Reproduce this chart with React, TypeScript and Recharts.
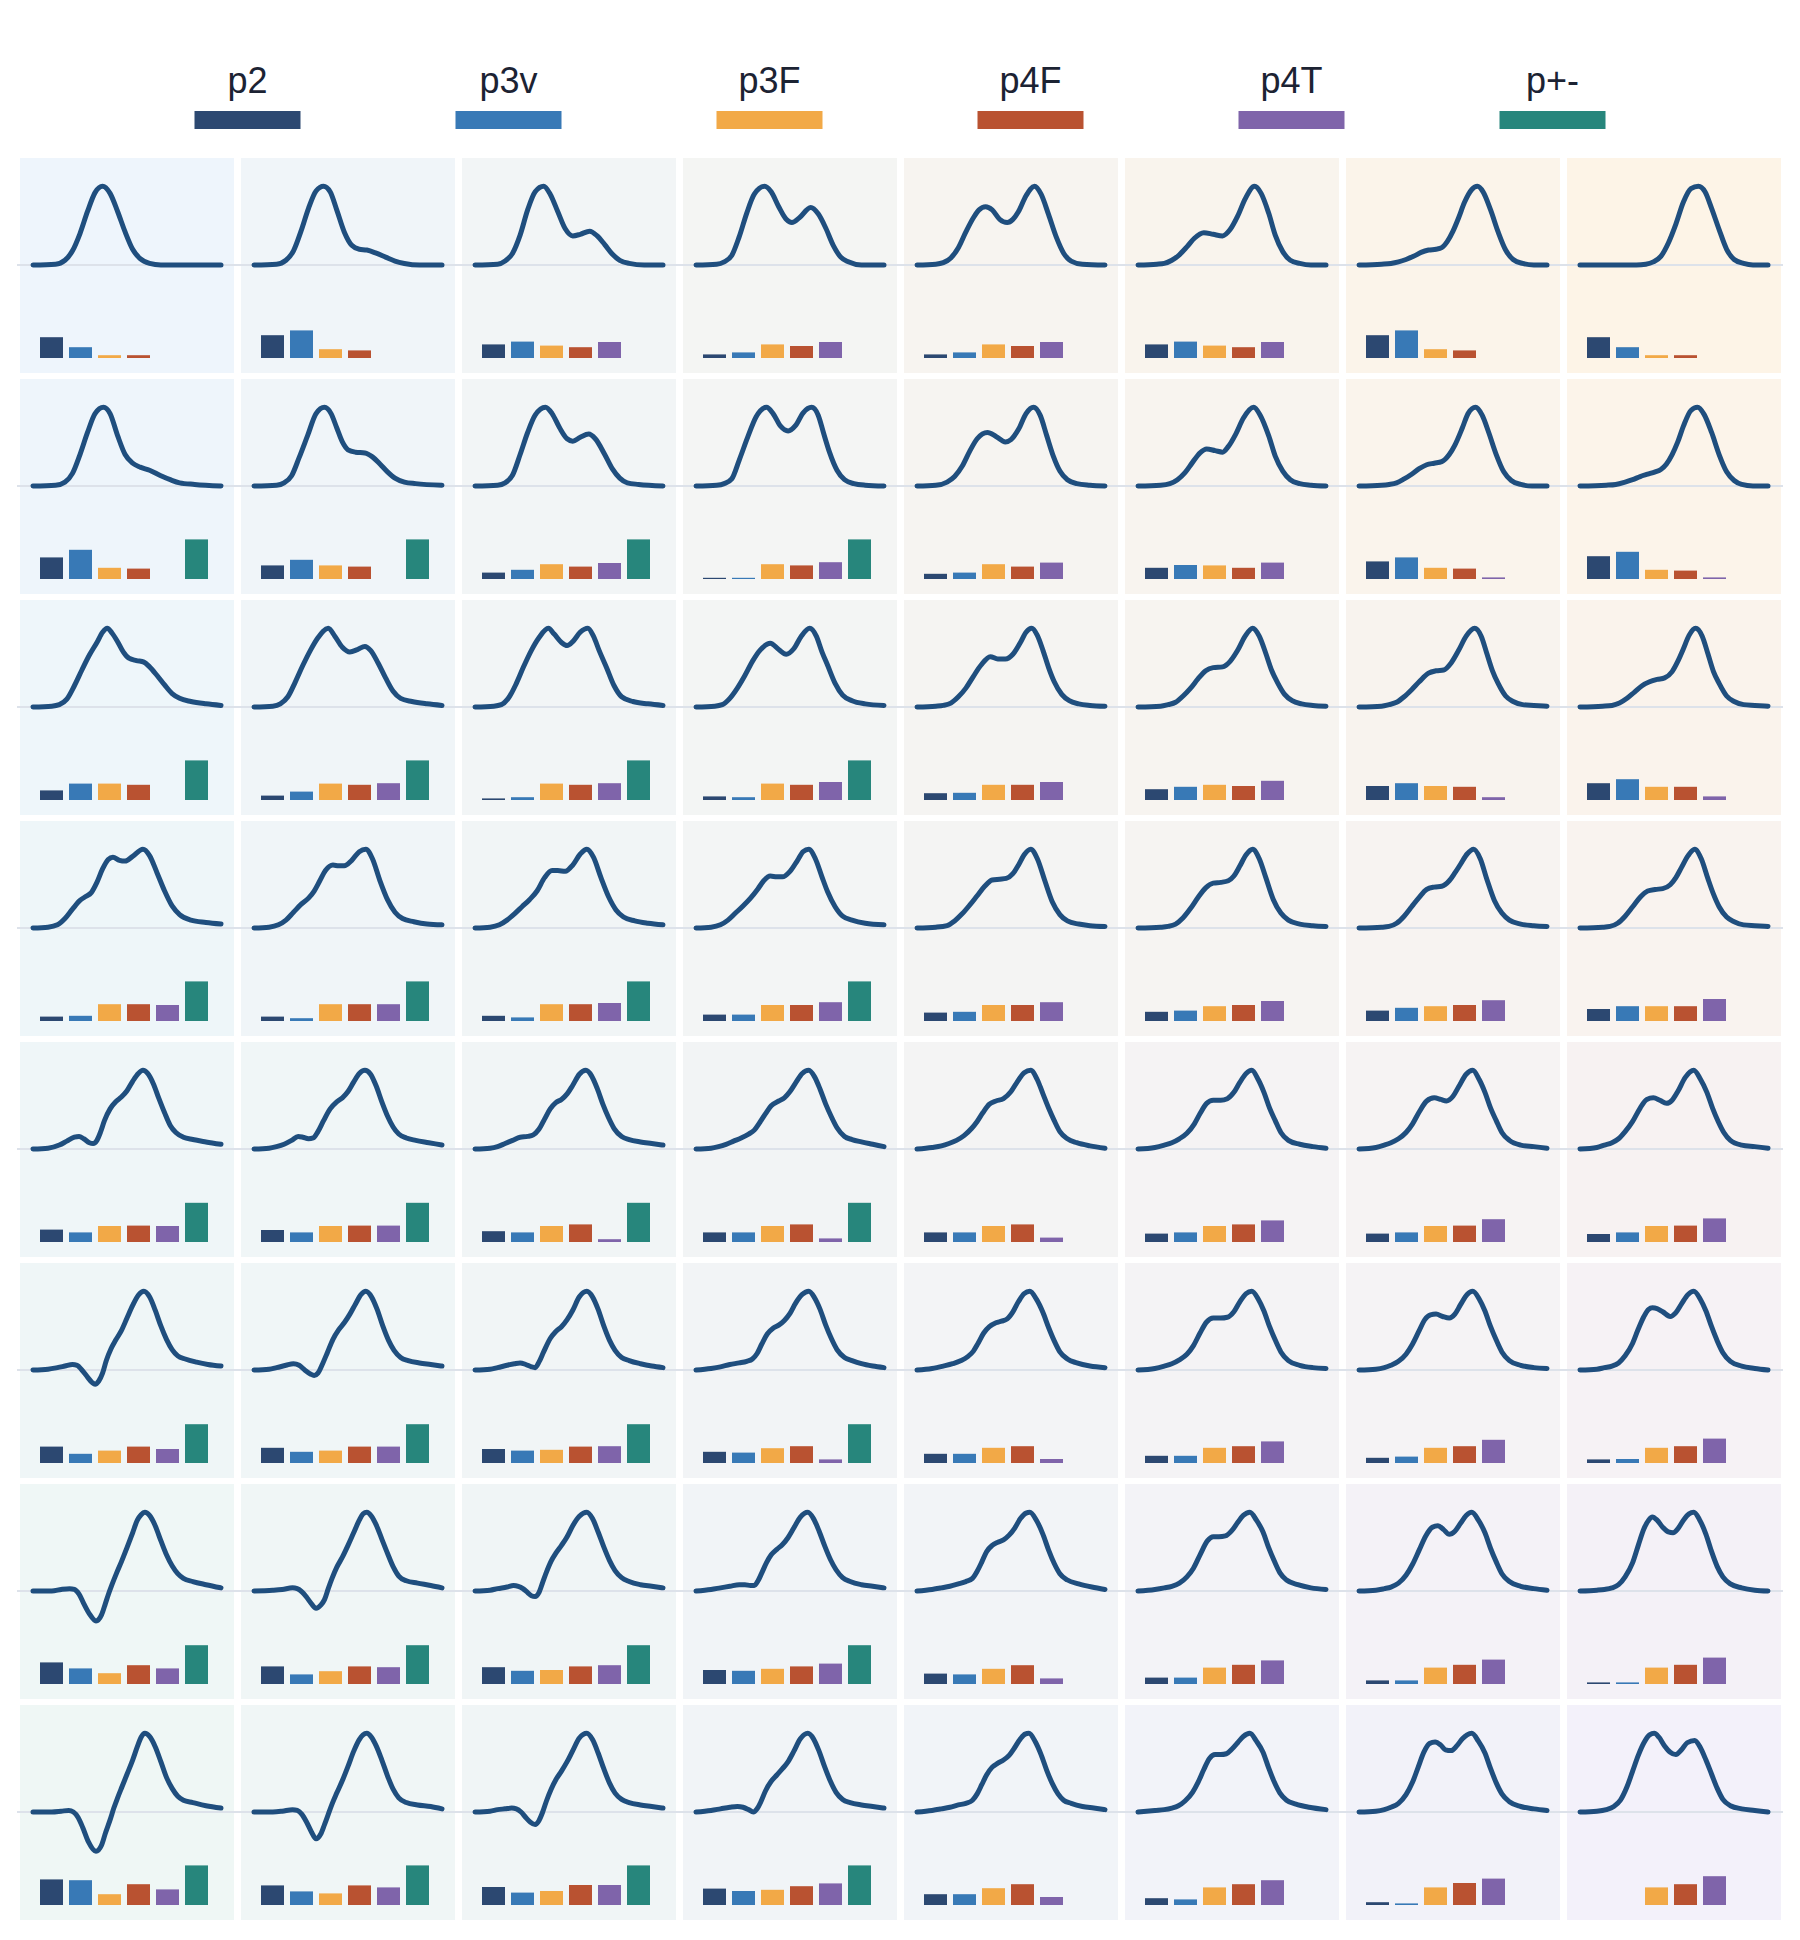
import { Bar, BarChart, Cell, Line, LineChart, XAxis, YAxis } from 'recharts';

const SERIES = ['p2', 'p3v', 'p3F', 'p4F', 'p4T', 'p+-'];
const SERIES_COLORS = ['#2c4871', '#3879b6', '#f2a947', '#b95231', '#7f64aa', '#27867c'];

// curve points per cell: [t, normalised intensity], t runs 0..100 across the panel
const ROW_1 = [
  [[0,0],[12,0.01],[17,0.06],[21,0.18],[25,0.4],[29,0.68],[33,0.92],[37,1],[41,0.91],[45,0.68],[49,0.42],[53,0.2],[57,0.08],[62,0.02],[68,0],[100,0]],
  [[0,0],[12,0.01],[17,0.06],[21,0.18],[25,0.43],[29,0.72],[33,0.94],[37,1],[40.5,0.93],[44,0.7],[48,0.42],[52,0.25],[56,0.2],[60,0.19],[65,0.15],[70,0.1],[75,0.05],[80,0.02],[88,0],[100,0]],
  [[0,0],[12,0.01],[16,0.05],[20,0.15],[24,0.38],[28,0.7],[32,0.93],[36.5,1],[40,0.9],[44,0.68],[48,0.46],[52,0.37],[56,0.39],[61,0.43],[65,0.37],[69,0.26],[73,0.14],[77,0.06],[82,0.02],[90,0],[100,0]],
  [[0,0],[11,0.01],[15,0.04],[19,0.12],[23,0.36],[27,0.66],[31,0.9],[36.5,1],[40,0.93],[44,0.74],[48,0.58],[51,0.54],[55,0.6],[61,0.73],[65,0.65],[69,0.47],[73,0.25],[77,0.1],[81,0.04],[88,0],[100,0]],
  [[0,0],[10,0.01],[14,0.03],[18,0.09],[22,0.22],[26,0.42],[30,0.6],[33,0.7],[36.5,0.74],[40,0.7],[44,0.58],[48,0.54],[51,0.58],[54,0.68],[58,0.88],[62.5,1],[66,0.9],[70,0.64],[74,0.36],[78,0.15],[82,0.05],[88,0.01],[100,0]],
  [[0,0],[10,0.01],[14,0.02],[18,0.06],[22,0.13],[26,0.23],[30,0.34],[35,0.41],[40,0.39],[45,0.37],[49,0.45],[53,0.62],[57,0.84],[62,1],[65.5,0.91],[69.5,0.66],[73,0.38],[77,0.17],[81,0.06],[86,0.02],[92,0],[100,0]],
  [[0,0],[12,0.01],[17,0.02],[21,0.04],[25,0.07],[29,0.11],[33,0.16],[37,0.19],[41,0.2],[44,0.22],[47,0.3],[50,0.43],[53,0.6],[56,0.79],[60,0.96],[63,1],[66,0.93],[70,0.7],[74,0.42],[78,0.19],[82,0.07],[87,0.02],[93,0],[100,0]],
  [[0,0],[30,0],[35,0.01],[39,0.04],[43,0.11],[47,0.28],[51,0.52],[55,0.8],[59,0.97],[63,1],[66.5,0.93],[70,0.72],[74,0.45],[78,0.2],[82,0.07],[87,0.02],[92,0],[100,0]],
];

const ROW_2 = [
  [[0,0],[12,0.01],[17,0.05],[21,0.16],[25,0.4],[29,0.68],[33,0.92],[37.5,1],[41,0.92],[45,0.64],[49,0.4],[53,0.29],[57,0.24],[62,0.2],[68,0.13],[73,0.08],[78,0.04],[86,0.02],[100,0]],
  [[0,0],[12,0.01],[16,0.04],[20,0.13],[24,0.36],[28.5,0.64],[33,0.92],[37.5,1],[41,0.92],[44,0.74],[47,0.56],[50,0.46],[54,0.43],[59,0.42],[63,0.37],[67,0.28],[71,0.18],[75,0.1],[80,0.05],[86,0.03],[100,0.01]],
  [[0,0],[12,0.01],[16,0.04],[20,0.14],[24,0.4],[28,0.68],[32,0.9],[37.5,1],[41,0.92],[45,0.74],[49,0.6],[52,0.57],[56,0.62],[60.5,0.66],[64,0.6],[69,0.4],[73,0.22],[77,0.1],[81,0.04],[87,0.02],[100,0]],
  [[0,0],[11,0.01],[15,0.03],[19,0.09],[23,0.33],[27.5,0.62],[32,0.88],[37.5,1],[41,0.92],[45,0.76],[49,0.7],[53,0.77],[57,0.93],[61.5,1],[65,0.9],[68,0.66],[71,0.43],[75,0.2],[79,0.08],[84,0.03],[90,0.01],[100,0]],
  [[0,0],[10,0.01],[16,0.05],[20,0.12],[24,0.25],[28,0.44],[32,0.6],[37.5,0.68],[42,0.63],[47,0.56],[50,0.59],[54,0.72],[58,0.92],[62,1],[65.5,0.9],[69,0.64],[72.5,0.38],[76,0.19],[80,0.08],[85,0.03],[92,0.01],[100,0]],
  [[0,0],[12,0.01],[17,0.03],[21,0.08],[25,0.17],[29,0.3],[33,0.42],[36.5,0.47],[41,0.45],[45,0.43],[48,0.5],[52,0.66],[56,0.86],[61.5,1],[65,0.9],[69.5,0.64],[73,0.38],[77,0.19],[81,0.08],[86,0.03],[92,0.01],[100,0]],
  [[0,0],[12,0.01],[16,0.02],[20,0.04],[24,0.09],[28,0.15],[32,0.22],[36,0.27],[40,0.29],[44,0.31],[48,0.4],[51,0.52],[55,0.74],[58,0.92],[62,1],[65.5,0.9],[69,0.68],[73,0.4],[77,0.18],[81,0.07],[86,0.02],[92,0],[100,0]],
  [[0,0],[14,0.01],[19,0.02],[24,0.05],[28,0.08],[32,0.12],[36,0.15],[40,0.18],[43,0.21],[46,0.28],[49,0.4],[52,0.56],[55,0.76],[59,0.96],[62.5,1],[66,0.91],[70,0.68],[74,0.4],[78,0.18],[82,0.07],[86,0.02],[92,0],[100,0]],
];

const ROW_3 = [
  [[0,0],[10,0.01],[14,0.03],[18,0.1],[22,0.27],[26,0.47],[30,0.66],[34,0.82],[37,0.95],[39.5,1],[42,0.94],[45,0.83],[48,0.7],[51,0.62],[55,0.59],[59,0.57],[62,0.51],[66,0.4],[70,0.28],[74,0.17],[78,0.11],[84,0.07],[92,0.04],[100,0.02]],
  [[0,0],[10,0.01],[14,0.04],[18,0.13],[22,0.32],[26,0.53],[30,0.72],[34,0.88],[39.5,1],[43,0.9],[47,0.76],[51,0.7],[55,0.73],[59,0.77],[62,0.72],[66,0.56],[70,0.37],[74,0.2],[78,0.11],[84,0.07],[92,0.04],[100,0.02]],
  [[0,0],[10,0.01],[14,0.03],[18,0.12],[22,0.3],[26,0.52],[30,0.72],[34,0.88],[39,1],[42,0.93],[46,0.82],[49,0.78],[52,0.83],[56,0.95],[60,1],[63,0.9],[66,0.72],[70,0.5],[74,0.27],[78,0.13],[84,0.07],[92,0.04],[100,0.02]],
  [[0,0],[10,0.01],[14,0.03],[18,0.11],[22,0.24],[26,0.4],[30,0.58],[34,0.72],[39.5,0.81],[44,0.73],[48,0.67],[52,0.74],[56,0.9],[60.5,1],[64,0.9],[67,0.7],[70,0.53],[74,0.3],[78,0.15],[83,0.08],[90,0.04],[100,0.02]],
  [[0,0],[10,0.01],[14,0.02],[18,0.05],[22,0.13],[26,0.24],[30,0.39],[34,0.53],[39,0.64],[43,0.61],[47,0.61],[51,0.67],[55,0.82],[58,0.95],[61,1],[64,0.91],[67,0.72],[70,0.5],[73,0.32],[77,0.16],[81,0.08],[86,0.04],[92,0.02],[100,0.01]],
  [[0,0],[12,0.01],[16,0.03],[20,0.06],[24,0.14],[28,0.24],[32,0.36],[36,0.46],[40,0.5],[45,0.51],[49,0.58],[53,0.72],[57,0.9],[61,1],[64.5,0.9],[68,0.68],[71,0.47],[74,0.32],[78,0.16],[82,0.08],[87,0.04],[93,0.02],[100,0.01]],
  [[0,0],[12,0.01],[16,0.03],[20,0.06],[24,0.13],[28,0.22],[32,0.32],[37,0.43],[41,0.46],[45,0.47],[49,0.56],[53,0.72],[57,0.9],[61.5,1],[65,0.9],[68,0.68],[71,0.46],[74,0.3],[78,0.14],[82,0.07],[87,0.03],[93,0.02],[100,0.01]],
  [[0,0],[12,0.01],[17,0.02],[21,0.05],[25,0.11],[29,0.19],[33,0.27],[37,0.32],[41,0.35],[45,0.37],[49,0.45],[52,0.58],[55,0.74],[58,0.91],[61.5,1],[65,0.9],[68,0.68],[71,0.45],[74,0.3],[78,0.14],[82,0.07],[87,0.03],[93,0.02],[100,0.01]],
];

const ROW_4 = [
  [[0,0],[8,0.01],[13,0.04],[17,0.12],[21,0.24],[25,0.35],[28,0.4],[31,0.45],[34,0.58],[37,0.75],[40,0.87],[42.5,0.9],[46,0.86],[49,0.85],[53,0.91],[58.5,1],[62,0.92],[66,0.7],[70,0.47],[74,0.28],[78,0.17],[84,0.1],[92,0.07],[100,0.05]],
  [[0,0],[8,0.01],[13,0.04],[17,0.1],[21,0.2],[25,0.3],[29,0.38],[32,0.47],[35,0.6],[38,0.73],[42,0.8],[45,0.79],[48,0.79],[52,0.86],[56,0.97],[59.5,1],[63,0.88],[67,0.6],[71,0.36],[75,0.2],[79,0.12],[85,0.08],[92,0.05],[100,0.04]],
  [[0,0],[8,0.01],[13,0.04],[17,0.1],[21,0.18],[25,0.27],[29,0.36],[33,0.47],[37,0.64],[41,0.73],[44,0.73],[48,0.72],[52,0.8],[56,0.94],[59.5,1],[63,0.9],[67,0.64],[71,0.4],[75,0.23],[79,0.14],[85,0.09],[92,0.06],[100,0.04]],
  [[0,0],[8,0.01],[13,0.04],[17,0.1],[21,0.19],[25,0.28],[29,0.38],[33,0.5],[36,0.6],[39.5,0.66],[43,0.65],[46,0.65],[50,0.72],[54,0.86],[57,0.97],[60,1],[63.5,0.88],[67,0.65],[70,0.46],[74,0.27],[78,0.15],[83,0.1],[90,0.06],[100,0.04]],
  [[0,0],[10,0.01],[16,0.03],[20,0.09],[24,0.18],[28,0.29],[32,0.41],[36,0.53],[40,0.61],[44,0.62],[47.5,0.63],[51,0.69],[54,0.8],[57,0.93],[60.5,1],[64,0.88],[68,0.6],[72,0.33],[76,0.17],[80,0.09],[86,0.05],[92,0.03],[100,0.02]],
  [[0,0],[12,0.01],[16,0.02],[20,0.05],[24,0.13],[28,0.25],[32,0.39],[36,0.51],[40,0.57],[44,0.58],[48,0.6],[51,0.66],[54,0.78],[57.5,0.93],[61,1],[64.5,0.88],[68,0.64],[72,0.36],[76,0.19],[80,0.1],[86,0.05],[93,0.03],[100,0.02]],
  [[0,0],[12,0.01],[16,0.02],[20,0.06],[24,0.15],[28,0.27],[32,0.39],[36,0.49],[40,0.52],[44,0.53],[48,0.6],[51,0.7],[54,0.81],[57.5,0.94],[61,1],[64.5,0.88],[68,0.62],[72,0.35],[76,0.19],[80,0.1],[86,0.05],[93,0.03],[100,0.02]],
  [[0,0],[12,0.01],[16,0.02],[20,0.06],[24,0.15],[28,0.27],[32,0.39],[36,0.47],[40,0.49],[44,0.5],[48,0.55],[51,0.64],[54,0.77],[57.5,0.92],[61,1],[64.5,0.88],[68,0.63],[71,0.43],[74,0.27],[78,0.14],[82,0.08],[87,0.04],[93,0.03],[100,0.02]],
];

const ROW_5 = [
  [[0,0],[8,0.01],[14,0.05],[18,0.1],[22,0.15],[24.5,0.16],[27,0.13],[30,0.08],[32,0.07],[34,0.11],[36,0.22],[38,0.36],[41,0.51],[44,0.6],[47,0.66],[50,0.74],[53,0.86],[56,0.96],[58.5,1],[61,0.96],[64,0.83],[67,0.64],[70,0.46],[73,0.3],[76,0.21],[80,0.15],[85,0.12],[92,0.09],[100,0.06]],
  [[0,0],[8,0.01],[12,0.03],[16,0.06],[20,0.11],[23.5,0.16],[26,0.15],[29,0.13],[31.5,0.14],[34,0.22],[37,0.36],[40.5,0.51],[44,0.6],[47,0.65],[50,0.73],[53,0.85],[56,0.96],[59,1],[62,0.95],[65,0.8],[68,0.6],[71,0.42],[74,0.28],[77,0.19],[81,0.14],[86,0.11],[93,0.08],[100,0.05]],
  [[0,0],[8,0.01],[12,0.03],[16,0.07],[20,0.11],[24,0.15],[28,0.16],[31,0.18],[34,0.25],[37,0.38],[40,0.51],[43,0.59],[46,0.63],[49,0.7],[52,0.81],[55.5,0.95],[59,1],[62,0.93],[65,0.77],[68,0.57],[71,0.4],[74,0.26],[78,0.16],[82,0.12],[88,0.09],[94,0.07],[100,0.05]],
  [[0,0],[8,0.01],[12,0.03],[16,0.06],[20,0.1],[24,0.14],[28,0.19],[31,0.24],[34,0.34],[37,0.45],[40,0.55],[44,0.61],[47,0.65],[50,0.73],[53,0.84],[56.5,0.96],[60,1],[63,0.92],[66,0.76],[69,0.57],[72,0.41],[75,0.27],[79,0.16],[83,0.12],[88,0.09],[94,0.06],[100,0.03]],
  [[0,0],[8,0.02],[13,0.04],[17,0.07],[21,0.11],[25,0.17],[29,0.26],[32,0.35],[35,0.46],[38.5,0.57],[42,0.61],[46,0.64],[50,0.73],[53.5,0.86],[57,0.97],[60.5,1],[64,0.88],[67,0.7],[70,0.52],[73,0.36],[76,0.22],[80,0.13],[85,0.08],[92,0.04],[100,0.01]],
  [[0,0],[9,0.02],[14,0.05],[18,0.08],[22,0.13],[26,0.2],[30,0.32],[33,0.45],[36.5,0.58],[40,0.62],[44,0.62],[47.5,0.64],[51,0.72],[54,0.84],[57.5,0.96],[60.5,1],[64,0.88],[67,0.72],[70,0.52],[73,0.36],[76,0.21],[80,0.11],[86,0.06],[93,0.03],[100,0.01]],
  [[0,0],[9,0.02],[13.5,0.05],[17,0.08],[21,0.13],[25,0.21],[28.5,0.32],[32,0.47],[36,0.61],[40,0.65],[43.5,0.63],[46.5,0.61],[50,0.67],[53,0.79],[57,0.95],[60.5,1],[64,0.88],[67,0.72],[70,0.52],[73,0.36],[76,0.21],[80,0.11],[86,0.05],[93,0.03],[100,0.01]],
  [[0,0],[9,0.02],[13,0.05],[17,0.08],[20.5,0.13],[24,0.22],[28,0.35],[32,0.52],[35.5,0.63],[39,0.65],[42.5,0.62],[46,0.58],[49,0.62],[52,0.73],[56,0.91],[60.5,1],[64,0.89],[67.5,0.72],[70.5,0.52],[73.5,0.35],[76.5,0.21],[80,0.11],[86,0.05],[93,0.03],[100,0.01]],
];

const ROW_6 = [
  [[0,0],[8,0.01],[13,0.03],[17,0.05],[21,0.07],[23.5,0.06],[26,0],[29,-0.09],[31.5,-0.16],[33,-0.18],[35,-0.14],[37,-0.04],[39,0.12],[41.5,0.27],[44,0.38],[47,0.5],[50,0.66],[53,0.82],[56,0.95],[59,1],[62,0.93],[65,0.76],[68,0.56],[71,0.39],[74,0.26],[77,0.18],[81,0.14],[87,0.1],[93,0.07],[100,0.05]],
  [[0,0],[8,0.01],[12,0.03],[17,0.06],[21,0.08],[24,0.06],[27,0],[30,-0.05],[32,-0.07],[34,-0.04],[36.5,0.08],[39,0.22],[42,0.39],[45,0.51],[48,0.6],[51,0.71],[54,0.84],[57,0.96],[59.5,1],[62.5,0.93],[65.5,0.77],[68.5,0.56],[71.5,0.38],[74.5,0.25],[78,0.16],[82,0.12],[88,0.09],[94,0.07],[100,0.05]],
  [[0,0],[8,0.01],[12,0.03],[17,0.06],[21,0.08],[24,0.09],[27,0.07],[30,0.04],[32,0.03],[34,0.1],[36.5,0.23],[40,0.4],[43,0.49],[46,0.55],[49,0.64],[52,0.76],[55.5,0.93],[59.5,1],[62.5,0.93],[65.5,0.77],[68.5,0.56],[71.5,0.38],[74.5,0.25],[78,0.16],[82,0.12],[88,0.08],[94,0.05],[100,0.03]],
  [[0,0],[8,0.02],[13,0.04],[18,0.07],[23,0.09],[27,0.11],[30,0.14],[32.5,0.21],[35,0.33],[38,0.46],[41,0.53],[44,0.57],[47,0.63],[50,0.72],[53,0.85],[56.5,0.96],[60,1],[63,0.92],[66,0.77],[69,0.57],[72,0.4],[75,0.26],[79,0.16],[83,0.12],[88,0.08],[94,0.05],[100,0.03]],
  [[0,0],[8,0.02],[14,0.05],[19,0.08],[23.5,0.12],[27,0.17],[30,0.24],[32.5,0.34],[35.5,0.47],[38.5,0.55],[42,0.6],[45,0.62],[48,0.65],[51,0.74],[54,0.87],[57,0.97],[60,1],[63.5,0.9],[67,0.73],[70,0.54],[73,0.37],[76,0.23],[80,0.14],[85,0.09],[92,0.05],[100,0.03]],
  [[0,0],[9,0.02],[14,0.05],[18,0.08],[22,0.13],[26,0.2],[29.5,0.31],[33,0.47],[36.5,0.61],[40,0.66],[44,0.66],[47.5,0.67],[51,0.74],[54,0.86],[57.5,0.97],[60.5,1],[64,0.9],[67,0.75],[70,0.55],[73,0.38],[76,0.23],[80,0.12],[86,0.06],[93,0.03],[100,0.02]],
  [[0,0],[9,0.01],[13.5,0.03],[17,0.06],[21,0.11],[25,0.2],[28.5,0.33],[32,0.5],[35,0.64],[38,0.7],[41,0.71],[44.5,0.68],[48,0.66],[51,0.71],[54,0.83],[57.5,0.96],[60.5,1],[64,0.9],[67,0.75],[70,0.55],[73,0.38],[76,0.23],[80,0.12],[86,0.06],[93,0.03],[100,0.02]],
  [[0,0],[9,0.01],[13,0.03],[17,0.05],[20.5,0.09],[24,0.18],[28,0.34],[31,0.52],[34,0.68],[36.5,0.77],[38.5,0.79],[41,0.78],[44,0.74],[48,0.68],[51,0.73],[54,0.84],[57.5,0.96],[60.5,1],[64,0.9],[67,0.75],[70,0.55],[73,0.37],[76,0.22],[80,0.11],[86,0.05],[93,0.02],[100,0]],
];

const ROW_7 = [
  [[0,0],[10,0],[15,0.02],[19.5,0.03],[22,0.02],[24.5,-0.04],[27,-0.16],[30,-0.29],[33.5,-0.38],[36.5,-0.3],[38.5,-0.16],[40,-0.05],[42,0.08],[44.5,0.23],[47,0.37],[50,0.55],[53,0.74],[55.5,0.9],[57.5,0.97],[59.5,1],[62,0.96],[65,0.83],[68,0.64],[71,0.46],[74,0.32],[77,0.22],[80,0.16],[85,0.12],[92,0.08],[100,0.04]],
  [[0,0],[10,0.01],[15,0.02],[20.5,0.04],[23,0.03],[25.5,-0.01],[28,-0.08],[30.5,-0.16],[33,-0.22],[35.5,-0.18],[37.5,-0.11],[39.5,0.03],[41.5,0.16],[44,0.3],[47,0.43],[50,0.58],[53,0.74],[56,0.9],[58,0.98],[60,1],[62.5,0.95],[65,0.84],[68,0.66],[71,0.48],[74,0.31],[77,0.19],[81,0.13],[87,0.1],[94,0.07],[100,0.04]],
  [[0,0],[8,0.01],[12,0.03],[17,0.05],[20.5,0.07],[23,0.06],[25.5,0.03],[28,-0.02],[30,-0.06],[32,-0.07],[34,-0.02],[36,0.11],[38,0.24],[40.5,0.38],[43,0.48],[46,0.58],[49,0.69],[52,0.83],[55.5,0.95],[59.5,1],[62.5,0.92],[65.5,0.75],[68.5,0.56],[71.5,0.39],[74.5,0.26],[78,0.17],[82,0.12],[88,0.08],[94,0.06],[100,0.04]],
  [[0,0],[8,0.02],[13,0.04],[18,0.06],[23,0.08],[26,0.08],[29,0.07],[31,0.07],[33,0.13],[35,0.23],[37.5,0.36],[40,0.46],[43,0.53],[46,0.59],[49,0.68],[52,0.8],[55.5,0.94],[59.5,1],[62.5,0.92],[65.5,0.76],[68.5,0.57],[71.5,0.4],[74.5,0.27],[78,0.17],[82,0.12],[88,0.08],[94,0.06],[100,0.04]],
  [[0,0],[8,0.02],[13,0.04],[17.5,0.06],[22,0.09],[26,0.12],[29.5,0.16],[32,0.25],[34.5,0.37],[37,0.5],[40,0.58],[43,0.62],[46,0.65],[49,0.71],[52,0.8],[55,0.92],[58,0.99],[60,1],[63.5,0.9],[67,0.72],[70,0.52],[73,0.35],[76,0.22],[80,0.14],[86,0.09],[93,0.05],[100,0.02]],
  [[0,0],[9,0.02],[14,0.04],[18,0.06],[22,0.1],[26,0.18],[29.5,0.29],[33,0.46],[37,0.64],[40,0.69],[43,0.69],[46.5,0.7],[50,0.77],[53,0.87],[56,0.96],[59.5,1],[63,0.9],[66.5,0.75],[69.5,0.55],[72.5,0.38],[75.5,0.23],[79,0.14],[85,0.08],[92,0.04],[100,0.02]],
  [[0,0],[9,0.01],[13.5,0.03],[17,0.05],[21,0.1],[25,0.2],[28.5,0.34],[32,0.52],[35.5,0.7],[39,0.81],[42,0.83],[45,0.78],[48,0.72],[51,0.76],[54,0.86],[57,0.96],[60,1],[63.5,0.9],[67,0.74],[70,0.54],[73,0.37],[76,0.22],[80,0.12],[86,0.06],[93,0.03],[100,0.01]],
  [[0,0],[9,0.01],[13,0.02],[17,0.04],[20.5,0.08],[24,0.18],[28,0.36],[31,0.58],[34,0.79],[36.5,0.9],[38.5,0.94],[41,0.9],[44,0.81],[47,0.75],[49.5,0.74],[52,0.79],[55,0.9],[58,0.98],[60.5,1],[63.5,0.91],[67,0.72],[70,0.5],[73,0.31],[76,0.18],[80,0.09],[86,0.04],[93,0.01],[100,0]],
];

const ROW_8 = [
  [[0,0],[10,0],[15,0.01],[19,0.02],[21.5,0],[24,-0.07],[26.5,-0.2],[29.5,-0.38],[33.5,-0.5],[36.5,-0.42],[38.5,-0.27],[41,-0.1],[43,0.05],[45,0.18],[47.5,0.33],[50,0.48],[53,0.66],[55.5,0.83],[57.5,0.95],[59.5,1],[62,0.96],[65,0.83],[68,0.64],[71,0.44],[74,0.3],[77,0.2],[80,0.15],[85,0.12],[92,0.08],[100,0.05]],
  [[0,0],[10,0],[15,0.01],[20.5,0.03],[23,0.02],[25.5,-0.03],[28,-0.13],[30.5,-0.25],[33,-0.34],[35.5,-0.28],[37.5,-0.16],[39.5,-0.03],[41.5,0.1],[44,0.24],[47,0.4],[50,0.58],[53,0.77],[56,0.92],[58,0.98],[60,1],[62.5,0.95],[65,0.84],[68,0.66],[71,0.46],[74,0.29],[77,0.18],[81,0.12],[87,0.09],[94,0.07],[100,0.04]],
  [[0,0],[8,0.01],[12,0.03],[16,0.04],[19.5,0.05],[22,0.04],[24.5,0],[27,-0.07],[29.5,-0.13],[32,-0.16],[34,-0.11],[36,0],[38,0.14],[40.5,0.29],[43,0.41],[46,0.52],[49,0.64],[52,0.78],[55.5,0.94],[59.5,1],[62.5,0.92],[65.5,0.75],[68.5,0.55],[71.5,0.37],[74.5,0.24],[78,0.16],[82,0.12],[88,0.09],[94,0.07],[100,0.05]],
  [[0,0],[8,0.02],[13,0.04],[18,0.06],[22,0.07],[25,0.06],[28,0.03],[30.5,0],[32.5,0.04],[34.5,0.13],[37,0.27],[40,0.39],[43,0.47],[46,0.55],[49,0.64],[52,0.77],[55.5,0.93],[59.5,1],[62.5,0.93],[65.5,0.77],[68.5,0.57],[71.5,0.39],[74.5,0.25],[78,0.16],[82,0.12],[88,0.09],[94,0.07],[100,0.05]],
  [[0,0],[8,0.02],[13,0.04],[17.5,0.06],[22,0.09],[26,0.11],[29.5,0.15],[32,0.23],[34.5,0.35],[37,0.47],[40,0.57],[43,0.62],[46,0.66],[49,0.72],[52,0.82],[55,0.93],[57.5,0.99],[59.5,1],[63,0.89],[66,0.73],[69,0.53],[72,0.36],[75,0.23],[78,0.15],[82,0.11],[88,0.07],[94,0.05],[100,0.03]],
  [[0,0],[9,0.02],[14,0.03],[18,0.05],[21.5,0.08],[25,0.14],[29,0.25],[32,0.38],[35,0.54],[38,0.68],[41,0.73],[44,0.73],[47,0.74],[50,0.8],[53,0.88],[56,0.96],[59.5,1],[63,0.9],[66.5,0.76],[69.5,0.56],[72.5,0.38],[75.5,0.24],[79,0.15],[84,0.1],[91,0.06],[100,0.03]],
  [[0,0],[9,0.01],[13.5,0.03],[17,0.06],[21,0.11],[25,0.22],[28.5,0.38],[31.5,0.57],[34.5,0.76],[37.5,0.87],[40.5,0.89],[43.5,0.85],[46,0.79],[49,0.78],[52,0.84],[55,0.93],[57.5,0.98],[60,1],[63.5,0.9],[67,0.75],[70,0.55],[73,0.37],[76,0.23],[80,0.13],[86,0.07],[93,0.04],[100,0.02]],
  [[0,0],[9,0.01],[14,0.03],[18,0.07],[21.5,0.15],[25,0.32],[28,0.52],[31,0.72],[34,0.88],[37,0.98],[39.5,1],[42,0.95],[45,0.84],[48,0.76],[51,0.73],[54,0.79],[57,0.88],[61,0.91],[64,0.82],[67,0.66],[70,0.48],[73,0.3],[76,0.16],[80,0.08],[86,0.04],[93,0.02],[100,0]],
];

// bar values per cell, in SERIES order
const BARS_1 = [
  [0.52, 0.27, 0.07, 0.07, 0, 0], [0.57, 0.69, 0.22, 0.19, 0, 0], [0.34, 0.41, 0.31, 0.27, 0.4, 0], [0.09, 0.14, 0.34, 0.3, 0.4, 0],
  [0.09, 0.14, 0.34, 0.3, 0.4, 0], [0.34, 0.41, 0.31, 0.27, 0.4, 0], [0.57, 0.69, 0.22, 0.19, 0, 0], [0.52, 0.27, 0.07, 0.07, 0, 0],
];
const BARS_2 = [
  [0.54, 0.73, 0.28, 0.26, 0, 0.99], [0.34, 0.48, 0.34, 0.31, 0, 0.99], [0.16, 0.23, 0.37, 0.31, 0.4, 0.99], [0.03, 0.03, 0.37, 0.34, 0.42, 0.99],
  [0.13, 0.16, 0.37, 0.31, 0.41, 0], [0.28, 0.35, 0.34, 0.28, 0.41, 0], [0.44, 0.54, 0.28, 0.26, 0.04, 0], [0.57, 0.68, 0.23, 0.21, 0.04, 0],
];
const BARS_3 = [
  [0.24, 0.41, 0.41, 0.38, 0, 0.99], [0.11, 0.21, 0.41, 0.38, 0.42, 0.99], [0.04, 0.07, 0.41, 0.38, 0.42, 0.99], [0.09, 0.07, 0.41, 0.38, 0.45, 0.99],
  [0.17, 0.18, 0.38, 0.38, 0.45, 0], [0.27, 0.33, 0.38, 0.35, 0.48, 0], [0.35, 0.42, 0.35, 0.33, 0.07, 0], [0.42, 0.52, 0.33, 0.33, 0.09, 0],
];
const BARS_4 = [
  [0.11, 0.13, 0.42, 0.42, 0.4, 0.99], [0.11, 0.07, 0.42, 0.42, 0.42, 0.99], [0.13, 0.09, 0.42, 0.42, 0.45, 0.99], [0.16, 0.16, 0.4, 0.4, 0.47, 0.99],
  [0.21, 0.23, 0.4, 0.4, 0.47, 0], [0.23, 0.26, 0.37, 0.4, 0.5, 0], [0.26, 0.33, 0.37, 0.4, 0.52, 0], [0.3, 0.37, 0.37, 0.37, 0.55, 0],
];
const BARS_5 = [
  [0.31, 0.24, 0.4, 0.41, 0.4, 0.98], [0.3, 0.24, 0.4, 0.41, 0.41, 0.98], [0.27, 0.24, 0.4, 0.44, 0.07, 0.98], [0.24, 0.24, 0.4, 0.44, 0.09, 0.98],
  [0.24, 0.24, 0.4, 0.44, 0.11, 0], [0.21, 0.24, 0.4, 0.44, 0.54, 0], [0.21, 0.24, 0.4, 0.41, 0.57, 0], [0.2, 0.24, 0.4, 0.41, 0.59, 0],
];
const BARS_6 = [
  [0.41, 0.23, 0.31, 0.41, 0.35, 0.97], [0.38, 0.28, 0.31, 0.41, 0.41, 0.97], [0.35, 0.31, 0.33, 0.41, 0.42, 0.97], [0.28, 0.26, 0.37, 0.42, 0.09, 0.97],
  [0.23, 0.23, 0.38, 0.42, 0.1, 0], [0.18, 0.18, 0.38, 0.42, 0.54, 0], [0.13, 0.16, 0.38, 0.42, 0.58, 0], [0.09, 0.1, 0.38, 0.42, 0.61, 0],
];
const BARS_7 = [
  [0.54, 0.39, 0.27, 0.47, 0.39, 0.97], [0.44, 0.24, 0.32, 0.44, 0.42, 0.97], [0.42, 0.33, 0.35, 0.44, 0.47, 0.97], [0.35, 0.33, 0.38, 0.44, 0.51, 0.97],
  [0.26, 0.24, 0.38, 0.47, 0.14, 0], [0.16, 0.16, 0.41, 0.48, 0.59, 0], [0.09, 0.09, 0.41, 0.48, 0.61, 0], [0.04, 0.04, 0.41, 0.48, 0.66, 0],
];
const BARS_8 = [
  [0.64, 0.62, 0.27, 0.52, 0.39, 0.99], [0.49, 0.34, 0.29, 0.49, 0.44, 0.99], [0.45, 0.31, 0.35, 0.5, 0.5, 0.99], [0.41, 0.35, 0.38, 0.47, 0.54, 0.99],
  [0.27, 0.27, 0.42, 0.52, 0.2, 0], [0.17, 0.14, 0.44, 0.52, 0.62, 0], [0.07, 0.04, 0.44, 0.55, 0.66, 0], [0, 0, 0.44, 0.52, 0.72, 0],
];

const CURVE_ROWS = [ROW_1, ROW_2, ROW_3, ROW_4, ROW_5, ROW_6, ROW_7, ROW_8];
const BAR_ROWS = [BARS_1, BARS_2, BARS_3, BARS_4, BARS_5, BARS_6, BARS_7, BARS_8];

const GRID_LEFT = 20;
const GRID_TOP = 158;
const CELL_W = 214;
const CELL_H = 215;
const STEP = 221;
const LINE_COLOR = '#1f4e7e';

// corner tints of the panel backgrounds, blended across the grid
const TINT_TL = [238, 245, 252];
const TINT_TR = [253, 244, 231];
const TINT_BL = [239, 247, 245];
const TINT_BR = [243, 241, 250];

function tint(r: number, c: number): string {
  const u = c / 7;
  const v = r / 7;
  const ch = [0, 1, 2].map((i) => {
    const top = TINT_TL[i] + (TINT_TR[i] - TINT_TL[i]) * u;
    const bot = TINT_BL[i] + (TINT_BR[i] - TINT_BL[i]) * u;
    return Math.round(top + (bot - top) * v);
  });
  return `rgb(${ch[0]},${ch[1]},${ch[2]})`;
}

function Panel({ r, c }: { r: number; c: number }) {
  const curve = CURVE_ROWS[r][c].map(([t, y]) => ({ t, y }));
  const bars = BAR_ROWS[r][c].map((v, i) => ({ name: SERIES[i], v }));
  const left = GRID_LEFT + c * STEP;
  const top = GRID_TOP + r * STEP;
  return (
    <>
      <div style={{ position: 'absolute', left, top, width: CELL_W, height: CELL_H, zIndex: 2 }}>
        {/* zero sits 107px down the panel, a unit peak ~79px above it */}
        <LineChart width={CELL_W} height={170} data={curve} margin={{ top: 0, right: 13, bottom: 0, left: 13 }}>
          <XAxis type="number" dataKey="t" domain={[0, 100]} hide />
          <YAxis type="number" domain={[-0.8005, 1.3596]} allowDataOverflow hide />
          <Line
            type="monotone"
            dataKey="y"
            stroke={LINE_COLOR}
            strokeWidth={5}
            strokeLinecap="round"
            strokeLinejoin="round"
            dot={false}
            isAnimationActive={false}
          />
        </LineChart>
      </div>
      <div style={{ position: 'absolute', left, top: top + 150, width: CELL_W, height: 50, zIndex: 2 }}>
        <BarChart width={CELL_W} height={50} data={bars} margin={{ top: 0, right: 23, bottom: 0, left: 17 }}>
          <XAxis type="category" dataKey="name" hide />
          <YAxis type="number" domain={[0, 1.25]} allowDataOverflow hide />
          <Bar dataKey="v" barSize={23} isAnimationActive={false}>
            {bars.map((b, i) => (
              <Cell key={b.name} fill={SERIES_COLORS[i]} />
            ))}
          </Bar>
        </BarChart>
      </div>
    </>
  );
}

export default function App() {
  const rows = [0, 1, 2, 3, 4, 5, 6, 7];
  return (
    <div style={{ position: 'absolute', left: 0, top: 0, width: 1800, height: 1940, background: '#ffffff', overflow: 'hidden' }}>
      <svg width={1800} height={150} style={{ position: 'absolute', left: 0, top: 0 }}>
        {SERIES.map((s, i) => {
          const cx = 247.5 + i * 261;
          return (
            <g key={s}>
              <text
                x={cx}
                y={93}
                textAnchor="middle"
                fontSize={36}
                fill="#1c2333"
                fontFamily="'Liberation Sans', Arial, Helvetica, sans-serif"
              >
                {s}
              </text>
              <rect x={cx - 53} y={111} width={106} height={18} fill={SERIES_COLORS[i]} />
            </g>
          );
        })}
      </svg>
      {rows.map((r) =>
        rows.map((c) => (
          <div
            key={`bg-${r}-${c}`}
            style={{
              position: 'absolute',
              left: GRID_LEFT + c * STEP,
              top: GRID_TOP + r * STEP,
              width: CELL_W,
              height: CELL_H,
              background: tint(r, c),
              zIndex: 0,
            }}
          />
        )),
      )}
      {rows.map((r) => (
        <div
          key={`zero-${r}`}
          style={{
            position: 'absolute',
            left: 17,
            top: GRID_TOP + r * STEP + 106,
            width: 1766,
            height: 2,
            background: '#dde2ea',
            zIndex: 1,
          }}
        />
      ))}
      {rows.map((r) => rows.map((c) => <Panel key={`p-${r}-${c}`} r={r} c={c} />))}
    </div>
  );
}
